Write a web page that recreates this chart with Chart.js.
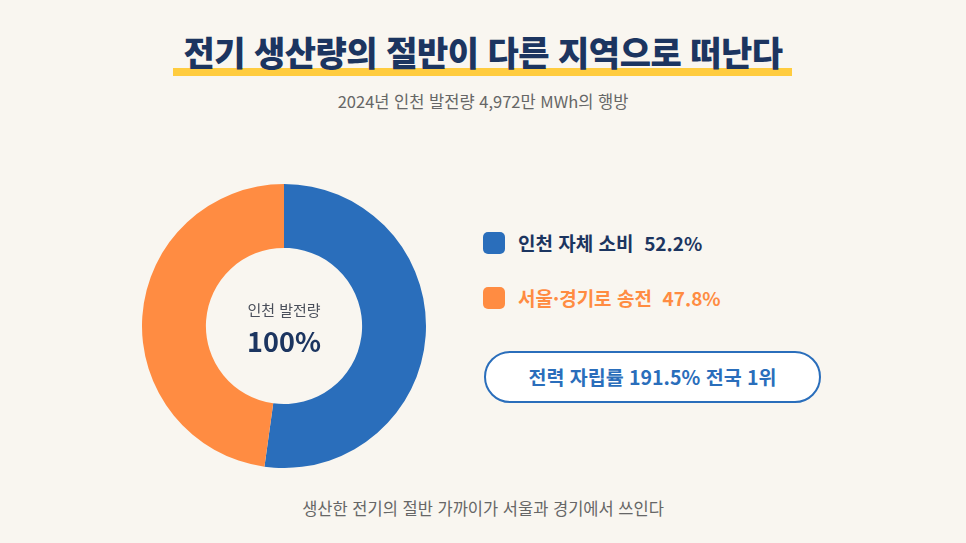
<!DOCTYPE html>
<html lang="ko">
<head>
<meta charset="UTF-8" />
<title>전기 생산량의 절반이 다른 지역으로 떠난다</title>
<script src="https://cdn.jsdelivr.net/npm/chart.js"></script>
<style>
  html, body { margin: 0; padding: 0; }
  body {
    width: 966px; height: 543px; overflow: hidden; position: relative;
    background: #f9f6f0;
    font-family: "Noto Sans CJK KR", "Noto Sans", sans-serif;
  }
  .title {
    position: absolute; left: 0; width: 966px; top: 27px; text-align: center;
    font-size: 34px; font-weight: 900; color: #1c3560; letter-spacing: -0.5px;
    line-height: 50px; z-index: 2;
  }
  .underline {
    position: absolute; left: 173px; width: 619px; top: 68px; height: 8px;
    background: #ffcc3f; z-index: 1;
  }
  .subtitle {
    position: absolute; left: 0; width: 966px; top: 89px; text-align: center;
    font-size: 16.5px; color: #666; line-height: 24px;
  }
  #chartBox { position: absolute; left: 142px; top: 184px; width: 284px; height: 284px; }
  .center .lbl { position: absolute; left: 184px; width: 200px; text-align: center; top: 299px; font-size: 15px; color: #4a4f5a; line-height: 22px; }
  .center .val { position: absolute; left: 184px; width: 200px; text-align: center; top: 322px; font-size: 27px; font-weight: 700; color: #1c3560; line-height: 38px; }
  .legend-item { position: absolute; left: 483px; height: 24px; display: flex; align-items: center; }
  .swatch { width: 22px; height: 22px; border-radius: 5px; margin-right: 13px; }
  .legend-item span { font-size: 19px; font-weight: 700; line-height: 24px; white-space: pre; }
  .badge {
    position: absolute; left: 484px; top: 351px; width: 333px; height: 48px;
    border: 2.5px solid #2a6ebb; border-radius: 26px; background: #ffffff;
    text-align: center; line-height: 48px; font-size: 19.5px; font-weight: 700; color: #2a6ebb;
  }
  .footer {
    position: absolute; left: 0; width: 966px; top: 496px; text-align: center;
    font-size: 16.5px; color: #666; line-height: 24px;
  }
</style>
</head>
<body>
<div class="title">전기 생산량의 절반이 다른 지역으로 떠난다</div>
<div class="underline"></div>
<div class="subtitle">2024년 인천 발전량 4,972만 MWh의 행방</div>

<div id="chartBox"><canvas id="donut" width="284" height="284"></canvas></div>
<div class="center">
  <div class="lbl">인천 발전량</div>
  <div class="val">100%</div>
</div>

<div id="legend"></div>
<div class="badge">전력 자립률 191.5% 전국 1위</div>

<div class="footer">생산한 전기의 절반 가까이가 서울과 경기에서 쓰인다</div>

<script>
// 데이터
const labels = ['인천 자체 소비', '서울·경기로 송전'];
const shares = [52.2, 47.8];
const colors = ['#2a6ebb', '#ff8c42'];
const legendTextColors = ['#1c3560', '#ff8c42'];

// 범례
const legend = document.getElementById('legend');
labels.forEach((name, i) => {
  const item = document.createElement('div');
  item.className = 'legend-item';
  item.style.top = (231 + i * 55) + 'px';
  item.innerHTML = '<div class="swatch" style="background:' + colors[i] + '"></div>' +
    '<span style="color:' + legendTextColors[i] + '">' + name + '  ' + shares[i].toFixed(1) + '%</span>';
  legend.appendChild(item);
});

// 도넛 차트
const ctx = document.getElementById('donut').getContext('2d');
new Chart(ctx, {
  type: 'doughnut',
  data: {
    labels: labels,
    datasets: [{
      data: shares,
      backgroundColor: colors,
      borderWidth: 0
    }]
  },
  options: {
    responsive: false,
    animation: false,
    cutout: '55%',
    layout: { padding: 0 },
    plugins: {
      legend: { display: false },
      tooltip: { enabled: false }
    }
  }
});
</script>
</body>
</html>
